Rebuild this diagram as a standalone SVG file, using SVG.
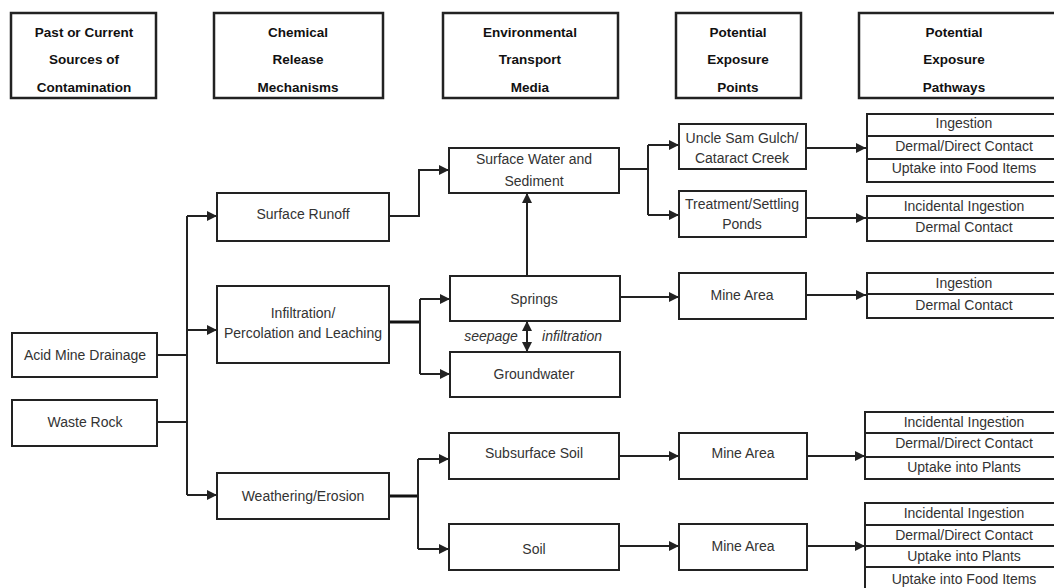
<svg xmlns="http://www.w3.org/2000/svg" width="1054" height="588" viewBox="0 0 1054 588">
<defs>
<marker id="ah" markerUnits="userSpaceOnUse" markerWidth="11" markerHeight="11" refX="10" refY="5" orient="auto">
<path d="M0,0 L10,5 L0,10 z" fill="#222"/>
</marker>
<marker id="as" markerUnits="userSpaceOnUse" markerWidth="11" markerHeight="11" refX="10" refY="5" orient="auto-start-reverse">
<path d="M0,0 L10,5 L0,10 z" fill="#222"/>
</marker>
<style>
.box{fill:#fff;stroke:#222;stroke-width:2}
.hbox{fill:#fff;stroke:#222;stroke-width:2.5}
.h{font-family:"Liberation Sans",Arial,sans-serif;font-size:13.5px;font-weight:bold;fill:#111;text-anchor:middle}
.t{font-family:"Liberation Sans",Arial,sans-serif;font-size:14px;fill:#333;text-anchor:middle}
.i{font-family:"Liberation Sans",Arial,sans-serif;font-size:14px;font-style:italic;fill:#333;text-anchor:middle}
.c{fill:none;stroke:#222;stroke-width:2}
.ck{fill:none;stroke:#111;stroke-width:3}
.a{marker-end:url(#ah)}
</style>
</defs>
<rect width="1054" height="588" fill="#fff"/>

<g id="headers">
<g id="h1"><rect class="hbox" x="11" y="13" width="145" height="85"/>
<text class="h" x="84" y="37">Past or Current</text><text class="h" x="84" y="64">Sources of</text><text class="h" x="84" y="92">Contamination</text></g>
<g id="h2"><rect class="hbox" x="214" y="13" width="169" height="85"/>
<text class="h" x="298" y="37">Chemical</text><text class="h" x="298" y="64">Release</text><text class="h" x="298" y="92">Mechanisms</text></g>
<g id="h3"><rect class="hbox" x="443" y="13" width="175" height="85"/>
<text class="h" x="530" y="37">Environmental</text><text class="h" x="530" y="64">Transport</text><text class="h" x="530" y="92">Media</text></g>
<g id="h4"><rect class="hbox" x="676" y="13" width="125" height="85"/>
<text class="h" x="738" y="37">Potential</text><text class="h" x="738" y="64">Exposure</text><text class="h" x="738" y="92">Points</text></g>
<g id="h5"><rect class="hbox" x="859" y="13" width="210" height="85"/>
<text class="h" x="954" y="37">Potential</text><text class="h" x="954" y="64">Exposure</text><text class="h" x="954" y="92">Pathways</text></g>
</g>

<g id="connectors">
<path class="c" d="M157,355 H187 M157,422 H187 M187,216 V495"/>
<path class="c a" d="M187,216 H217"/>
<path class="c a" d="M187,330 H217"/>
<path class="c a" d="M187,495 H217"/>
<path class="c a" d="M389,216 H419 V170 H449"/>
<path class="ck" d="M389,322 H420"/>
<path class="c" d="M420,299 V374"/>
<path class="c a" d="M420,299 H450"/>
<path class="c a" d="M420,374 H450"/>
<path class="c a" d="M527,276 V193"/>
<path class="c" d="M527,321 V352" marker-start="url(#as)" marker-end="url(#as)"/>
<path class="c" d="M619,169 H648 M648,145 V215"/>
<path class="c a" d="M648,145 H679"/>
<path class="c a" d="M648,215 H679"/>
<path class="c a" d="M806,148 H866"/>
<path class="c a" d="M806,218 H866"/>
<path class="c a" d="M620,297 H679"/>
<path class="c a" d="M806,295 H866"/>
<path class="ck" d="M389,496 H418"/>
<path class="c" d="M418,459 V549"/>
<path class="c a" d="M418,459 H449"/>
<path class="c a" d="M418,549 H449"/>
<path class="c a" d="M619,456 H679"/>
<path class="c a" d="M807,456 H865"/>
<path class="c a" d="M619,546 H679"/>
<path class="c a" d="M807,546 H865"/>
</g>

<g id="sources">
<g id="acid"><rect class="box" x="12" y="333" width="145" height="44"/><text class="t" x="85" y="360">Acid Mine Drainage</text></g>
<g id="waste"><rect class="box" x="12" y="400" width="145" height="46"/><text class="t" x="85" y="427">Waste Rock</text></g>
</g>

<g id="release">
<g id="runoff"><rect class="box" x="217" y="193" width="172" height="48"/><text class="t" x="303" y="219">Surface Runoff</text></g>
<g id="infiltration"><rect class="box" x="217" y="286" width="172" height="77"/><text class="t" x="303" y="318">Infiltration/</text><text class="t" x="303" y="338">Percolation and Leaching</text></g>
<g id="weathering"><rect class="box" x="217" y="473" width="172" height="46"/><text class="t" x="303" y="501">Weathering/Erosion</text></g>
</g>

<g id="media">
<g id="surfacewater"><rect class="box" x="449" y="148" width="170" height="45"/><text class="t" x="534" y="164">Surface Water and</text><text class="t" x="534" y="186">Sediment</text></g>
<g id="springs"><rect class="box" x="450" y="276" width="170" height="45"/><text class="t" x="534" y="304">Springs</text></g>
<g id="groundwater"><rect class="box" x="450" y="352" width="170" height="45"/><text class="t" x="534" y="379">Groundwater</text></g>
<g id="subsurface"><rect class="box" x="449" y="433" width="170" height="46"/><text class="t" x="534" y="458">Subsurface Soil</text></g>
<g id="soil"><rect class="box" x="449" y="524" width="170" height="46"/><text class="t" x="534" y="554">Soil</text></g>
<text class="i" x="491" y="341">seepage</text>
<text class="i" x="572" y="341">infiltration</text>
</g>

<g id="points">
<g id="unclesam"><rect class="box" x="679" y="124" width="127" height="45"/><text class="t" x="742" y="143">Uncle Sam Gulch/</text><text class="t" x="742" y="163">Cataract Creek</text></g>
<g id="treatment"><rect class="box" x="679" y="191" width="127" height="46"/><text class="t" x="742" y="209">Treatment/Settling</text><text class="t" x="742" y="229">Ponds</text></g>
<g id="mine1"><rect class="box" x="679" y="273" width="127" height="46"/><text class="t" x="742" y="300">Mine Area</text></g>
<g id="mine2"><rect class="box" x="679" y="433" width="128" height="46"/><text class="t" x="743" y="458">Mine Area</text></g>
<g id="mine3"><rect class="box" x="679" y="524" width="128" height="46"/><text class="t" x="743" y="551">Mine Area</text></g>
</g>

<g id="pathways">
<g id="pw1"><rect class="box" x="867" y="114" width="200" height="68"/><path class="c" d="M867,136 H1067 M867,159 H1067"/>
<text class="t" x="964" y="128">Ingestion</text><text class="t" x="964" y="151">Dermal/Direct Contact</text><text class="t" x="964" y="173">Uptake into Food Items</text></g>
<g id="pw2"><rect class="box" x="867" y="196" width="200" height="45"/><path class="c" d="M867,218 H1067"/>
<text class="t" x="964" y="211">Incidental Ingestion</text><text class="t" x="964" y="232">Dermal Contact</text></g>
<g id="pw3"><rect class="box" x="867" y="273" width="200" height="45"/><path class="c" d="M867,294 H1067"/>
<text class="t" x="964" y="288">Ingestion</text><text class="t" x="964" y="310">Dermal Contact</text></g>
<g id="pw4"><rect class="box" x="865" y="412" width="200" height="67"/><path class="c" d="M865,433 H1065 M865,457 H1065"/>
<text class="t" x="964" y="427">Incidental Ingestion</text><text class="t" x="964" y="448">Dermal/Direct Contact</text><text class="t" x="964" y="472">Uptake into Plants</text></g>
<g id="pw5"><rect class="box" x="865" y="503" width="200" height="90"/><path class="c" d="M865,525 H1065 M865,546 H1065 M865,567 H1065"/>
<text class="t" x="964" y="518">Incidental Ingestion</text><text class="t" x="964" y="540">Dermal/Direct Contact</text><text class="t" x="964" y="561">Uptake into Plants</text><text class="t" x="964" y="584">Uptake into Food Items</text></g>
</g>
</svg>
